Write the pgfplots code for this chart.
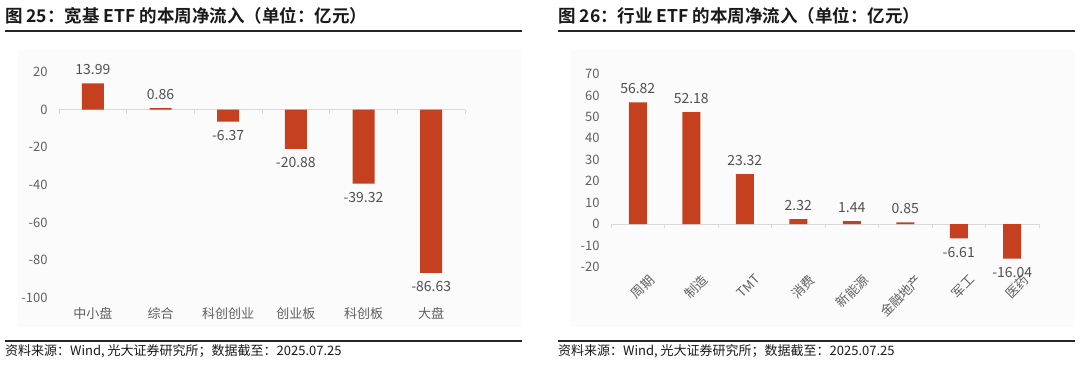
\documentclass[border=0pt]{standalone}
\usepackage{fontspec}
\setmainfont{Noto Sans CJK SC}[BoldFont={* Bold}]
\usepackage{pgfplots}
\pgfplotsset{compat=1.18}
\definecolor{barred}{HTML}{C5401F}
\definecolor{tickgray}{HTML}{606060}
\definecolor{labgray}{HTML}{505050}
\definecolor{bggray}{HTML}{FBFBFB}
\definecolor{zerogray}{HTML}{D9D9D9}
\pgfplotsset{
  common/.style={
    scale only axis,
    anchor=south west,
    axis line style={draw=none},
    major tick length=0pt,
    ybar, bar shift=0pt,
    /pgf/number format/assume math mode=true,
    tick label style={font=\fontsize{13}{13}\selectfont, text=tickgray},
    xtick=data,
    clip=false,
    nodes near coords,
    nodes near coords style={font=\fontsize{14}{14}\selectfont, text=labgray, inner sep=8.5pt,
      /pgf/number format/fixed, /pgf/number format/precision=2,
      /pgf/number format/fixed zerofill, /pgf/number format/assume math mode=true},
  }
}
\begin{document}
\begin{tikzpicture}[x=1pt,y=1pt]
\path (0,0) rectangle (1080,368);
% backgrounds
\fill[bggray] (18,41) rectangle (522,318);
\fill[bggray] (571,41) rectangle (1075,318);
% titles
\node[anchor=west, inner sep=0pt, text=black!90] at (5,352) {\fontsize{17.5}{18}\selectfont\bfseries 图 25：宽基 ETF 的本周净流入（单位：亿元）};
\node[anchor=west, inner sep=0pt, text=black!90] at (558,352) {\fontsize{17.5}{18}\selectfont\bfseries 图 26：行业 ETF 的本周净流入（单位：亿元）};
\draw[line width=1.4pt, black!85] (5,337) -- (522,337);
\draw[line width=1.4pt, black!85] (558,337) -- (1075,337);
\draw[line width=1.4pt, black!85] (5,27) -- (522,27);
\draw[line width=1.4pt, black!85] (558,27) -- (1075,27);
\node[anchor=west, inner sep=0pt, text=black!90] at (5,17) {\fontsize{13}{14}\selectfont 资料来源：Wind, 光大证券研究所；数据截至：2025.07.25};
\node[anchor=west, inner sep=0pt, text=black!90] at (558,17) {\fontsize{13}{14}\selectfont 资料来源：Wind, 光大证券研究所；数据截至：2025.07.25};

\begin{axis}[common,
  at={(59pt,70pt)}, width=406pt, height=226pt,
  xmin=-0.5, xmax=5.5, ymin=-100, ymax=20,
  ytick={-100,-80,-60,-40,-20,0,20},
  yticklabel style={xshift=-8pt},
  xticklabels={中小盘,综合,科创创业,创业板,科创板,大盘},
  xticklabel style={yshift=-6pt},
  bar width=22pt,
]
\draw[zerogray, line width=1pt] (axis cs:-0.5,0) -- (axis cs:5.5,0);
\pgfplotsinvokeforeach{-0.5,0.5,1.5,2.5,3.5,4.5,5.5}{\draw[zerogray, line width=0.8pt] (axis cs:#1,0) -- ([yshift=-4pt]axis cs:#1,0);}
\addplot[fill=barred, draw=none] coordinates {(0,13.99) (1,0.86) (2,-6.37) (3,-20.88) (4,-39.32) (5,-86.63)};
\end{axis}

\begin{axis}[common,
  at={(611pt,101pt)}, width=428pt, height=193pt,
  xmin=-0.5, xmax=7.5, ymin=-20, ymax=70,
  ytick={-20,-10,0,10,20,30,40,50,60,70},
  yticklabel style={xshift=-8pt},
  xticklabels={周期,制造,TMT,消费,新能源,金融地产,军工,医药},
  xticklabel style={rotate=45, anchor=north east, xshift=6pt, yshift=-8pt},
  bar width=18pt,
]
\draw[zerogray, line width=1pt] (axis cs:-0.5,0) -- (axis cs:7.5,0);
\pgfplotsinvokeforeach{-0.5,0.5,1.5,2.5,3.5,4.5,5.5,6.5,7.5}{\draw[zerogray, line width=0.8pt] (axis cs:#1,0) -- ([yshift=-4pt]axis cs:#1,0);}
\addplot[fill=barred, draw=none] coordinates {(0,56.82) (1,52.18) (2,23.32) (3,2.32) (4,1.44) (5,0.85) (6,-6.61) (7,-16.04)};
\end{axis}
\end{tikzpicture}
\end{document}
